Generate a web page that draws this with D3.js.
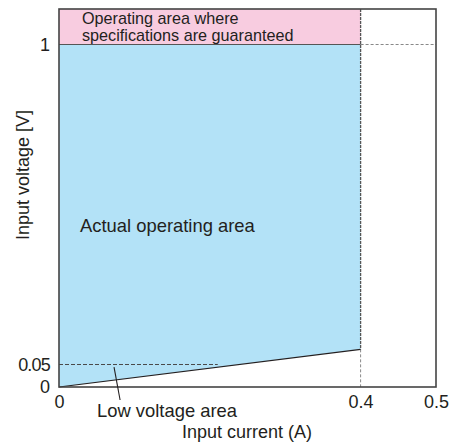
<!DOCTYPE html>
<html><head><meta charset="utf-8">
<script src="https://cdn.jsdelivr.net/npm/d3@7"></script>
<style>body{margin:0;background:#fff}svg text{font-family:"Liberation Sans",Arial,sans-serif;fill:#231f20}</style>
</head><body><svg id="c" width="454" height="444"></svg>
<script>
const xTicks = [0, 0.4, 0.5];
const xTickLabels = ["0", "0.4", "0.5"];
const yTicks = [0, 0.05, 1];
const yTickLabels = ["0", "0.05", "1"];
const currentMax = 0.4;        // A, limit of operating area
const specVoltage = 1;         // V, guaranteed spec voltage
const lowVoltageLine = [[0, 0], [0.4, 0.095]]; // low-voltage boundary
const lowVoltageRef = 0.05;
const xLabel = "Input current (A)";
const yLabel = "Input voltage [V]";
const labels = {spec: ["Operating area where", "specifications are guaranteed"], actual: "Actual operating area", low: "Low voltage area"};

const svg = d3.select("#c");
const x = d3.scaleLinear().domain([0, 0.5]).range([59, 436]);
const y = d3.scaleLinear().domain([0, 0.05, 1, 1.1]).range([387, 364.5, 44.5, 9]);

// areas
svg.append("rect").attr("x", x(0)).attr("y", y(1.1)).attr("width", x(currentMax) - x(0)).attr("height", y(specVoltage) - y(1.1)).attr("fill", "#f8cce0");
const blue = [[0, specVoltage], [currentMax, specVoltage], ...lowVoltageLine.slice().reverse()];
svg.append("path").attr("d", d3.line().x(d => x(d[0])).y(d => y(d[1]))(blue) + "Z").attr("fill", "#b3e2f7");

// reference dashed lines
const slope = lowVoltageLine[1][1] / lowVoltageLine[1][0];
svg.append("line").attr("x1", x(0)).attr("x2", x(lowVoltageRef / slope)).attr("y1", y(lowVoltageRef)).attr("y2", y(lowVoltageRef))
  .attr("stroke", "#4a4a4a").attr("stroke-dasharray", "4,2").attr("stroke-width", 1);
svg.append("line").attr("x1", x(currentMax)).attr("x2", x(0.5)).attr("y1", y(specVoltage)).attr("y2", y(specVoltage))
  .attr("stroke", "#888").attr("stroke-dasharray", "3,2").attr("stroke-width", 1);
svg.append("line").attr("x1", x(currentMax)).attr("x2", x(currentMax)).attr("y1", y(lowVoltageLine[1][1])).attr("y2", y(0))
  .attr("stroke", "#888").attr("stroke-dasharray", "3,2").attr("stroke-width", 1);
svg.append("line").attr("x1", x(currentMax)).attr("x2", x(currentMax)).attr("y1", y(1.1)).attr("y2", y(lowVoltageLine[1][1]))
  .attr("stroke", "#555").attr("stroke-dasharray", "3,1").attr("stroke-width", 1.3);
svg.append("line").attr("x1", x(0)).attr("x2", x(currentMax)).attr("y1", y(specVoltage)).attr("y2", y(specVoltage))
  .attr("stroke", "#555").attr("stroke-width", 1.2);

// low voltage line
svg.append("path").attr("d", d3.line().x(d => x(d[0])).y(d => y(d[1]))(lowVoltageLine)).attr("stroke", "#231f20").attr("fill", "none").attr("stroke-width", 1.1);

// frame
svg.append("rect").attr("x", x(0)).attr("y", y(1.1)).attr("width", x(0.5) - x(0)).attr("height", y(0) - y(1.1))
  .attr("fill", "none").attr("stroke", "#444").attr("stroke-width", 1.6);

// axes
const fs = 18;
const xa = svg.append("g").attr("transform", `translate(0,${y(0)})`)
  .call(d3.axisBottom(x).tickValues(xTicks).tickFormat((d, i) => xTickLabels[i]).tickSize(0).tickPadding(8));
const ya = svg.append("g").attr("transform", `translate(${x(0)},0)`)
  .call(d3.axisLeft(y).tickValues(yTicks).tickFormat((d, i) => yTickLabels[i]).tickSize(0).tickPadding(9));
[xa, ya].forEach(a => { a.select(".domain").remove(); a.selectAll("text").attr("font-size", fs).attr("font-family", null).style("fill", "#231f20"); });
ya.selectAll("text").filter(d => d === 0.05).attr("letter-spacing", -0.8);

svg.append("text").attr("x", 247).attr("y", 438).attr("text-anchor", "middle").attr("font-size", fs).text(xLabel);
svg.append("text").attr("transform", "translate(29,175) rotate(-90)").attr("text-anchor", "middle").attr("font-size", fs).text(yLabel);

// annotations
svg.append("text").attr("x", 82).attr("y", 24).attr("font-size", 16.2).text(labels.spec[0]);
svg.append("text").attr("x", 82).attr("y", 41).attr("font-size", 16.2).text(labels.spec[1]);
svg.append("text").attr("x", 80).attr("y", 232).attr("font-size", 18.4).text(labels.actual);
svg.append("line").attr("x1", x(0.073)).attr("y1", y(0.044)).attr("x2", x(0.081)).attr("y2", 400).attr("stroke", "#231f20").attr("stroke-width", 1.1);
svg.append("text").attr("x", 97).attr("y", 417).attr("font-size", 18.4).text(labels.low);
</script></body></html>
